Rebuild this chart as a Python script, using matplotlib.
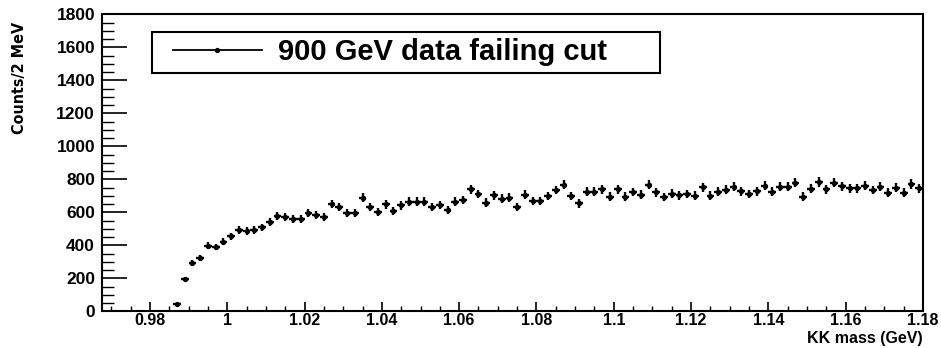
import numpy as np
import matplotlib
matplotlib.use("Agg")
import matplotlib.pyplot as plt
from matplotlib.ticker import MultipleLocator
from matplotlib.lines import Line2D
from matplotlib.patches import Rectangle

# ---- data ----
bin_width = 0.002  # GeV (2 MeV bins)
first_center = 0.987
counts = [42, 196, 291, 325, 398, 390, 422, 456, 493, 487,
          493, 509, 543, 580, 574, 561, 561, 594, 584, 570,
          652, 632, 598, 598, 689, 630, 604, 648, 608, 642,
          664, 664, 664, 632, 646, 614, 664, 675, 739, 711,
          658, 703, 682, 689, 634, 707, 668, 668, 699, 735,
          767, 699, 654, 725, 725, 741, 695, 741, 695, 723,
          707, 767, 721, 693, 713, 703, 711, 701, 752, 701,
          725, 737, 755, 727, 711, 727, 761, 725, 755, 755,
          779, 695, 743, 784, 739, 779, 758, 747, 747, 761,
          735, 755, 719, 749, 719, 772, 745]
mass = first_center + bin_width * np.arange(len(counts))
counts = np.array(counts, dtype=float)
errors = np.sqrt(counts)

x_ticks = [0.98, 1.0, 1.02, 1.04, 1.06, 1.08, 1.1, 1.12, 1.14, 1.16, 1.18]
x_tick_labels = ["0.98", "1", "1.02", "1.04", "1.06", "1.08", "1.1", "1.12", "1.14", "1.16", "1.18"]
y_ticks = [0, 200, 400, 600, 800, 1000, 1200, 1400, 1600, 1800]
legend_label = "900 GeV data failing cut"

# ---- figure ----
W, H = 941, 348
fig = plt.figure(figsize=(W / 100, H / 100), dpi=100)
L, R, T, B = 102, 923, 14.3, 311.3
ax = fig.add_axes([L / W, 1 - B / H, (R - L) / W, (B - T) / H])

sans = ["Liberation Sans", "DejaVu Sans"]

ax.errorbar(mass, counts, xerr=bin_width / 2, yerr=errors, fmt="o", ms=2.8,
            color="black", ecolor="black", elinewidth=1.7, capsize=0)

ax.set_xlim(0.9676, 1.18)
ax.set_ylim(0, 1800)

ax.set_xticks(x_ticks)
ax.set_xticklabels(x_tick_labels)
ax.set_yticks(y_ticks)
ax.xaxis.set_minor_locator(MultipleLocator(0.005))
ax.yaxis.set_minor_locator(MultipleLocator(50))

ax.tick_params(axis="x", which="major", direction="in", length=6.5, width=1.2, pad=1.0,
               top=False, bottom=True)
ax.tick_params(axis="x", which="minor", direction="in", length=3.6, width=1.0,
               top=False, bottom=True)
ax.tick_params(axis="y", which="major", direction="in", length=18, width=1.2, pad=5,
               left=True, right=False)
ax.tick_params(axis="y", which="minor", direction="in", length=8.6, width=1.0,
               left=True, right=False)
for lab in ax.get_xticklabels():
    lab.set_fontfamily(sans)
    lab.set_fontweight("bold")
    lab.set_fontsize(11.5)
for lab in ax.get_yticklabels():
    lab.set_fontfamily(sans)
    lab.set_fontweight("bold")
    lab.set_fontsize(12.5)

for sp in ax.spines.values():
    sp.set_linewidth(1.5)
    sp.set_color("black")

ax.set_xlabel("KK mass (GeV)", fontsize=11.5, family=sans, weight="bold",
              ha="right", va="top")
ax.xaxis.set_label_coords(1.0, -(330.8 - B) / (B - T))

ax.set_ylabel("Counts/2 MeV", fontsize=11.5, family=["DejaVu Sans"],
              stretch="condensed", weight="bold", ha="right", va="center")
ax.yaxis.set_label_coords(-(L - 20) / (R - L), 1 - (22 - T) / (B - T))

handle = Line2D([], [], color="black", lw=1.3, marker="o", ms=2.8)
leg = ax.legend([handle], [legend_label], loc="center left",
                bbox_to_anchor=(173 / W, 1 - 52.5 / H), bbox_transform=fig.transFigure,
                frameon=False, handlelength=3.05, handletextpad=0.55, borderpad=0,
                borderaxespad=0, prop=dict(family=sans, weight="bold", size=21))
fig.patches.append(Rectangle((152 / W, 1 - 73 / H), (660 - 152) / W, (73 - 32) / H,
                             transform=fig.transFigure, fill=False,
                             edgecolor="black", linewidth=1.5))

fig.savefig("out.png", dpi=100)
